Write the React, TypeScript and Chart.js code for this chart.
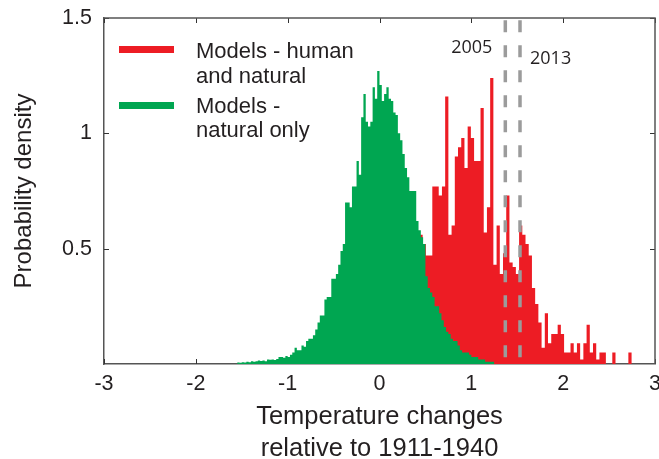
import React, { useEffect, useRef } from 'react';
import { Chart, registerables } from 'chart.js';

Chart.register(...registerables);

// ---------- data ----------
const xTickValues = [-3, -2, -1, 0, 1, 2, 3];
const yTickValues = [0.5, 1, 1.5];

const humanNaturalLabel = ['Models - human', 'and natural'];
const naturalOnlyLabel = ['Models -', 'natural only'];

const xTitle = ['Temperature changes', 'relative to 1911-1940'];
const yTitle = 'Probability density';

// Models - natural only (bins start at -1.55, width 0.025)
const naturalStart = -1.55;
const naturalBinWidth = 0.025;
const naturalDensity = [
  0.006, 0.005, 0.008, 0.006, 0.01, 0.008, 0.012, 0.01, 0.012, 0.015,
  0.013, 0.015, 0.012, 0.02, 0.018, 0.02, 0.017, 0.022, 0.03, 0.03,
  0.027, 0.035, 0.03, 0.04, 0.05, 0.07, 0.06, 0.06, 0.08, 0.075,
  0.1, 0.11, 0.11, 0.125, 0.15, 0.18, 0.21, 0.21, 0.28, 0.29,
  0.29, 0.37, 0.37, 0.39, 0.43, 0.49, 0.52, 0.7, 0.7, 0.68,
  0.77, 0.77, 0.88, 0.82, 1.07, 1.17, 1.05, 1.03, 1.05, 1.2,
  1.15, 1.27, 1.21, 1.14, 1.17, 1.2, 1.15, 1.14, 1.09, 1.08,
  1.0, 0.97, 0.91, 0.85, 0.81, 0.75, 0.75, 0.75, 0.62, 0.58,
  0.55, 0.52, 0.38, 0.33, 0.31, 0.29, 0.25, 0.25, 0.22, 0.19,
  0.16, 0.14, 0.13, 0.11, 0.1, 0.1, 0.08, 0.06, 0.05, 0.05,
  0.05, 0.04, 0.03, 0.03, 0.03, 0.02, 0.02, 0.02, 0.01, 0.01,
  0.01, 0.01,
];

// Models - human and natural (bins start at 0.40, width 0.035)
const humanStart = 0.4;
const humanBinWidth = 0.035;
const humanDensity = [
  0.4, 0.56, 0.52, 0.47, 0.47, 0.77, 0.77, 0.73, 0.77, 1.16,
  0.56, 0.6, 0.9, 0.94, 0.98, 0.85, 1.03, 0.98, 0.88, 0.88,
  1.11, 0.57, 0.68, 1.24, 0.43, 0.6, 0.39, 0.48, 0.73, 0.44,
  0.42, 0.39, 0.6, 0.56, 0.52, 0.47, 0.33, 0.26, 0.18, 0.07,
  0.22, 0.09, 0.13, 0.13, 0.17, 0.13, 0.05, 0.05, 0.09, 0.05,
  0.09, 0.02, 0.09, 0.17, 0.05, 0.09, 0.02, 0.05, 0.05, 0,
  0, 0.05, 0, 0, 0, 0, 0.05, 0,
];

const obsYears = ['2005', '2013'];
const obsValues = [1.37, 1.53];

// ---------- style ----------
const RED = '#ED1C24';
const GREEN = '#00A651';
const DASH = '#9B9B9B';
const TEXT = '#231F20';
const AXIS = '#555555';
const FONT = "'Liberation Sans', Arial, Helvetica, sans-serif";
const YEAR_FONT = "'Open Sans', 'DejaVu Sans', sans-serif";

function histPoints(start: number, width: number, vals: number[]) {
  const pts = vals.map((v, i) => ({ x: start + i * width, y: v }));
  pts.push({ x: start + vals.length * width, y: 0 });
  return pts;
}

const decorPlugin = {
  id: 'decor',
  beforeDatasetsDraw(chart: any) {
    const { ctx, chartArea, scales } = chart;
    const { left, right, top, bottom } = chartArea;
    const x = scales.x;
    const y = scales.y;
    ctx.save();
    ctx.strokeStyle = '#333';
    ctx.lineWidth = 1;
    ctx.beginPath();
    for (const v of xTickValues) {
      const px = Math.round(x.getPixelForValue(v)) + 0.5;
      ctx.moveTo(px, bottom);
      ctx.lineTo(px, bottom - 5);
      ctx.moveTo(px, top);
      ctx.lineTo(px, top + 5);
    }
    for (const v of yTickValues) {
      const py = Math.round(y.getPixelForValue(v)) + 0.5;
      ctx.moveTo(left, py);
      ctx.lineTo(left + 5, py);
      ctx.moveTo(right, py);
      ctx.lineTo(right - 5, py);
    }
    ctx.stroke();
    ctx.restore();
  },
  afterDraw(chart: any) {
    const { ctx, chartArea, scales } = chart;
    const { left, right, top, bottom } = chartArea;
    const x = scales.x;
    const y = scales.y;
    ctx.save();
    // top & right frame
    ctx.strokeStyle = AXIS;
    ctx.lineWidth = 1.5;
    ctx.beginPath();
    ctx.moveTo(left, top);
    ctx.lineTo(right, top);
    ctx.lineTo(right, bottom);
    ctx.stroke();

    // legend
    const sx = left + 15;
    const sw = 55;
    ctx.fillStyle = RED;
    ctx.fillRect(sx, top + 28, sw, 7);
    ctx.fillStyle = GREEN;
    ctx.fillRect(sx, top + 84, sw, 7);
    ctx.fillStyle = TEXT;
    ctx.font = `22px ${FONT}`;
    ctx.textAlign = 'left';
    ctx.textBaseline = 'middle';
    const tx = left + 92;
    ctx.fillText(humanNaturalLabel[0], tx, top + 34);
    ctx.fillText(humanNaturalLabel[1], tx, top + 59);
    ctx.fillText(naturalOnlyLabel[0], tx, top + 89);
    ctx.fillText(naturalOnlyLabel[1], tx, top + 113);

    // year labels
    ctx.font = `18px ${YEAR_FONT}`;
    const p0 = x.getPixelForValue(obsValues[0]);
    ctx.textAlign = 'right';
    ctx.fillText(obsYears[0], p0 - 13, y.getPixelForValue(1.372));
    const p1 = x.getPixelForValue(obsValues[1]);
    ctx.textAlign = 'left';
    ctx.fillText(obsYears[1], p1 + 10, y.getPixelForValue(1.322));
    ctx.restore();
  },
};

export default function App() {
  const ref = useRef<HTMLCanvasElement | null>(null);

  useEffect(() => {
    if (!ref.current) return;
    const dashSets = obsValues.map((v) => ({
      type: 'line' as const,
      data: [
        { x: v, y: 1.49 },
        { x: v, y: 0 },
      ],
      borderColor: DASH,
      borderWidth: 3.5,
      borderDash: [12, 13],
      pointRadius: 0,
      fill: false,
      order: -1,
    }));
    const chart = new Chart(ref.current, {
      type: 'line',
      data: {
        datasets: [
          {
            label: 'Models - natural only',
            data: histPoints(naturalStart, naturalBinWidth, naturalDensity),
            stepped: true,
            fill: 'origin',
            backgroundColor: GREEN,
            borderColor: GREEN,
            borderWidth: 0,
            pointRadius: 0,
            order: 0,
          },
          {
            label: 'Models - human and natural',
            data: histPoints(humanStart, humanBinWidth, humanDensity),
            stepped: true,
            fill: 'origin',
            backgroundColor: RED,
            borderColor: RED,
            borderWidth: 0,
            pointRadius: 0,
            order: 1,
          },
          ...dashSets,
        ] as any,
      },
      options: {
        animation: false,
        responsive: false,
        events: [],
        layout: { padding: { left: 0, right: 4, top: 18, bottom: 0 } },
        plugins: { legend: { display: false }, tooltip: { enabled: false } },
        scales: {
          x: {
            type: 'linear',
            min: -3,
            max: 3,
            afterBuildTicks: (s: any) => {
              s.ticks = xTickValues.map((v) => ({ value: v }));
            },
            afterFit: (s: any) => {
              s.height = 95;
              s.paddingLeft = 0;
              s.paddingRight = 0;
            },
            grid: { display: false, drawTicks: false },
            border: { display: true, color: AXIS, width: 1.5 },
            ticks: {
              color: TEXT,
              font: { family: FONT, size: 21.5 },
              padding: 7,
              maxRotation: 0,
              autoSkip: false,
              callback: (v: any) => String(v),
            },
            title: {
              display: true,
              text: xTitle,
              color: TEXT,
              font: { family: FONT, size: 25.5, lineHeight: 1.25 },
              padding: { top: 0, bottom: -6 },
            },
          },
          y: {
            type: 'linear',
            min: 0,
            max: 1.5,
            afterBuildTicks: (s: any) => {
              s.ticks = yTickValues.map((v) => ({ value: v }));
            },
            afterFit: (s: any) => {
              s.width = 104;
              s.paddingTop = 0;
              s.paddingBottom = 0;
            },
            grid: { display: false, drawTicks: false },
            border: { display: true, color: AXIS, width: 1.5 },
            ticks: {
              color: TEXT,
              font: { family: FONT, size: 21.5 },
              padding: 12,
              callback: (v: any) => String(v),
            },
            title: {
              display: true,
              text: yTitle,
              color: TEXT,
              font: { family: FONT, size: 24 },
              padding: { top: 10, bottom: 0 },
            },
          },
        },
      } as any,
      plugins: [decorPlugin],
    });
    return () => chart.destroy();
  }, []);

  return (
    <div style={{ position: 'absolute', left: 0, top: 0, width: 659, height: 459, background: '#fff' }}>
      <canvas ref={ref} width={659} height={459} style={{ display: 'block' }} />
    </div>
  );
}
